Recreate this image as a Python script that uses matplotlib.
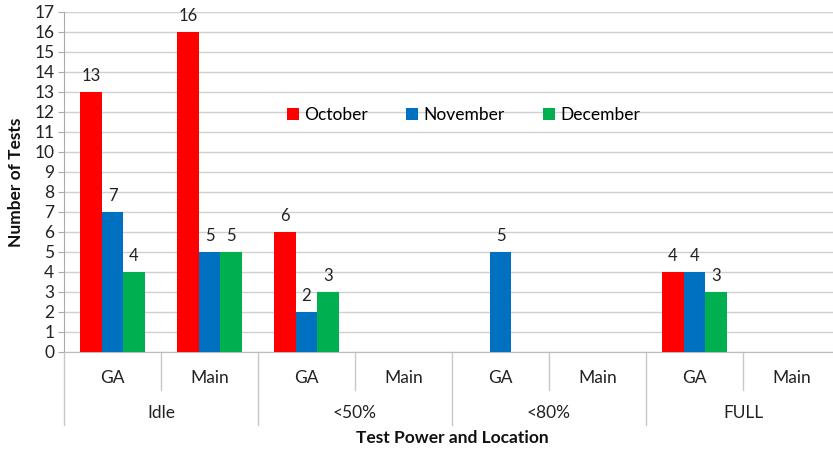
import numpy as np
import matplotlib.pyplot as plt
import matplotlib.transforms as mtransforms

plt.rcParams['font.family'] = ['Lato', 'DejaVu Sans']

# data
locations = ['GA', 'Main', 'GA', 'Main', 'GA', 'Main', 'GA', 'Main']
power_levels = ['Idle', '<50%', '<80%', 'FULL']
series_names = ['October', 'November', 'December']
october = [13, 16, 6, 0, 0, 0, 4, 0]
november = [7, 5, 2, 0, 5, 0, 4, 0]
december = [4, 5, 3, 0, 0, 0, 3, 0]
colors = ['#FF0000', '#0070C0', '#00B050']

fig = plt.figure(figsize=(8.33, 4.53), dpi=100)
ax = fig.add_axes([64 / 833, 101 / 453, 776 / 833, 340 / 453])

x = np.arange(len(locations))
w = 0.222
for i, (vals, name, c) in enumerate(zip([october, november, december], series_names, colors)):
    bars = ax.bar(x + (i - 1) * w, vals, w, color=c, label=name, zorder=3)
    ax.bar_label(bars, labels=[str(v) if v else '' for v in vals],
                 padding=6, fontsize=12, color='#222222')

ax.set_xlim(-0.5, len(locations) - 0.5)
ax.set_ylim(0, 17)
ax.set_yticks(range(0, 18))
ax.yaxis.grid(True, color='#d0d0d0', linewidth=1, zorder=0)
ax.tick_params(axis='y', labelsize=12.5, length=4, color='#aaaaaa', labelcolor='#222222', pad=3)
ax.set_xticks([])
for s in ['top', 'right']:
    ax.spines[s].set_visible(False)
ax.spines['left'].set_color('#aaaaaa')
ax.spines['bottom'].set_color('#bbbbbb')

# two-level category axis below
trans = mtransforms.blended_transform_factory(ax.transData, ax.transAxes)
for k in range(len(locations) + 1):
    xs = k - 0.5
    depth = 0.215 if k % 2 == 0 else 0.112
    ax.plot([xs, xs], [0, -depth], transform=trans, color='#c8c8c8', lw=1, clip_on=False)
for k, lab in enumerate(locations):
    ax.text(k, -0.077, lab, transform=trans, ha='center', va='center', fontsize=12.5, color='#222222')
for k, lab in enumerate(power_levels):
    ax.text(2 * k + 0.5, -0.18, lab, transform=trans, ha='center', va='center', fontsize=12.5, color='#222222')

ax.text(0.5, -0.253, 'Test Power and Location', transform=ax.transAxes,
        ha='center', va='center', fontsize=12.5, fontweight='bold', color='#111111')
ax.set_ylabel('Number of Tests', fontsize=12.5, fontweight='bold', color='#111111', labelpad=7)

ax.legend(loc='center', bbox_to_anchor=(0.515, 0.697), ncol=3, frameon=False,
          fontsize=12.5, handlelength=0.7, handleheight=0.7, handletextpad=0.3, columnspacing=2.2)

fig.savefig('out.png', dpi=100)
